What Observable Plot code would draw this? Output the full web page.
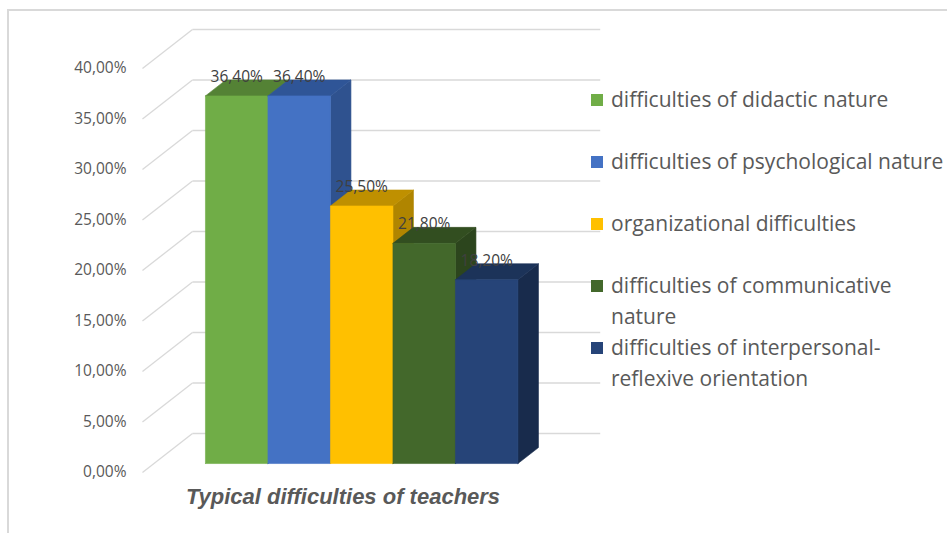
<!DOCTYPE html>
<html><head><meta charset="utf-8">
<script src="https://cdn.jsdelivr.net/npm/d3@7"></script>
<script src="https://cdn.jsdelivr.net/npm/@observablehq/plot@0.6"></script>
<style>
body{margin:0;background:#fff;}
#wrap{position:relative;width:947px;height:533px;overflow:hidden;background:#fff;font-family:"Open Sans","Noto Sans",sans-serif;}
#frame{position:absolute;left:7px;top:9px;right:-5px;bottom:-5px;border-left:2px solid #d9d9d9;border-top:2px solid #d9d9d9;}
#chart{position:absolute;left:0;top:0;}
#title{position:absolute;left:0;width:686px;top:484px;text-align:center;font:italic bold 22px "Liberation Sans",Arial,sans-serif;color:#595959;}
#legend{position:absolute;left:591px;top:84px;}
.item{display:flex;height:62px;align-items:flex-start;}
.sw{width:12px;height:12px;margin-top:9.5px;margin-right:8px;flex:none;}
.lab{font-size:21px;line-height:31px;color:#595959;white-space:pre;}
</style></head>
<body>
<div id="wrap"><div id="frame"></div><div id="chart"></div><div id="title"></div><div id="legend"></div></div>
<script>
// ---- data ----
const categories = [
  "difficulties of didactic nature",
  "difficulties of psychological nature",
  "organizational difficulties",
  "difficulties of communicative nature",
  "difficulties of interpersonal-reflexive orientation"
];
const legendLabels = [
  "difficulties of didactic nature",
  "difficulties of psychological nature",
  "organizational difficulties",
  "difficulties of communicative\nnature",
  "difficulties of interpersonal-\nreflexive orientation"
];
const values = [36.4, 36.4, 25.5, 21.8, 18.2];
const yTicks = [0, 5, 10, 15, 20, 25, 30, 35, 40];
const chartTitle = "Typical difficulties of teachers";

// ---- styles ----
const frontColors = ["#70ad47", "#4472c4", "#ffc000", "#43682b", "#264478"];
const topColors   = ["#548235", "#2f5597", "#bf9000", "#324e20", "#1c3359"];
const sideColors  = ["#4e7a31", "#2f528f", "#b08500", "#2c451d", "#182b4c"];

// ---- oblique 3D projection (depth expressed in data units) ----
const DX = 0.8, DY = 3.86;          // shift per unit of depth
const zFront = 0.23, zBack = 0.64, zWall = 1;
const wallLeft = -0.824, wallRight = 5.70;
const P = (i, v, z) => ({x: i + DX * z, y: v + DY * z});

// back wall gridlines & side diagonals
const wall = yTicks.map(v => {
  const a = P(wallLeft, v, zWall), b = P(wallRight, v, zWall), c = P(wallLeft, v, 0);
  return {x1: a.x, y1: a.y, x2: b.x, y2: b.y, x0: c.x, y0: c.y};
});

// bar faces as polygons
const faces = [];
values.forEach((v, i) => {
  const x0 = i, x1 = i + 1;
  const add = (id, color, pts) => {
    [...pts, pts[0]].forEach(([xi, vi, zi]) => { const p = P(xi, vi, zi); faces.push({id, color, x: p.x, y: p.y}); });
  };
  add(`s${i}`, sideColors[i], [[x1, 0, zFront], [x1, 0, zBack], [x1, v, zBack], [x1, v, zFront]]);
  add(`t${i}`, topColors[i], [[x0, v, zFront], [x1, v, zFront], [x1, v, zBack], [x0, v, zBack]]);
  add(`f${i}`, frontColors[i], [[x0, 0, zFront], [x1, 0, zFront], [x1, v, zFront], [x0, v, zFront]]);
});

const labels = values.map((v, i) => { const p = P(i + 0.5, v, zFront); return {x: p.x, y: p.y, v}; });
const fmt = d => d.toFixed(2).replace(".", ",") + "%";

const chart = Plot.plot({
  width: 947, height: 533,
  marginLeft: 142, marginTop: 0, marginBottom: 0, marginRight: 0,
  style: {fontFamily: "'Open Sans', 'Noto Sans', sans-serif", color: "#595959", background: "transparent"},
  x: {domain: [0, 5], range: [193.46, 505.96], axis: null},
  y: {domain: [0, 40], range: [472, 68]},
  color: {type: "identity"},
  marks: [
    Plot.link(wall, {x1: "x1", y1: "y1", x2: "x2", y2: "y2", stroke: "#d9d9d9", strokeWidth: 1.3}),
    Plot.link(wall, {x1: "x0", y1: "y0", x2: "x1", y2: "y1", stroke: "#d9d9d9", strokeWidth: 1.3}),
    Plot.line(faces, {x: "x", y: "y", z: "id", fill: "color", stroke: "color", strokeWidth: 0.6}),
    Plot.text(labels, {x: "x", y: "y", text: d => fmt(d.v), dy: -19, fontSize: 15.5, fill: "#404040"}),
    Plot.axisY(yTicks, {anchor: "left", tickSize: 0, tickPadding: 16, tickFormat: fmt, fontSize: 15.5, fill: "#595959"})
  ]
});
document.getElementById("chart").appendChild(chart);
document.getElementById("title").textContent = chartTitle;

const legend = document.getElementById("legend");
categories.forEach((c, i) => {
  const item = document.createElement("div");
  item.className = "item";
  item.title = c;
  const sw = document.createElement("div");
  sw.className = "sw"; sw.style.background = frontColors[i];
  const lab = document.createElement("div");
  lab.className = "lab"; lab.textContent = legendLabels[i];
  item.appendChild(sw); item.appendChild(lab);
  legend.appendChild(item);
});
</script>
</body></html>
